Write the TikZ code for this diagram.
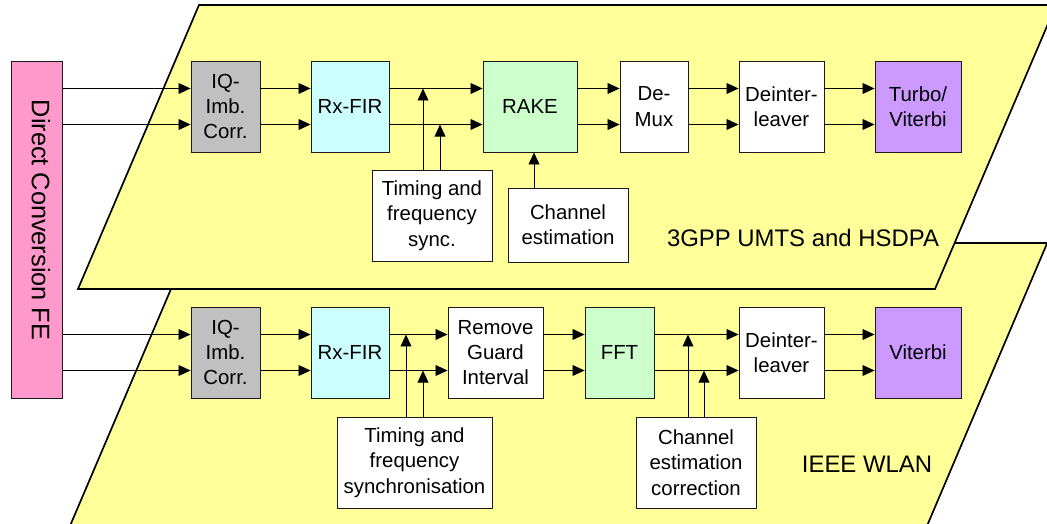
\documentclass[tikz,border=0pt]{standalone}
\usepackage{fontspec}
\setmainfont{Liberation Sans}
\usetikzlibrary{arrows.meta,calc}
\definecolor{Plane}{HTML}{FFFF99}
\definecolor{FrontEnd}{HTML}{FF99CC}
\definecolor{IQGrey}{HTML}{C0C0C0}
\definecolor{FirCyan}{HTML}{CCFFFF}
\definecolor{RakeGreen}{HTML}{CCFFCC}
\definecolor{DecViolet}{HTML}{CC99FF}
\definecolor{EdgeDark}{HTML}{1A1A1A}
\begin{document}
\begin{tikzpicture}[x=0.025cm,y=-0.025cm,every node/.style={font=\fontsize{14.5}{18}\selectfont,text=black},blk/.style={draw=EdgeDark,line width=0.6pt,fill=white,minimum height=2.275cm,inner sep=1pt,align=center},aux/.style={draw=EdgeDark,line width=0.6pt,fill=white,minimum height=2.275cm,minimum width=3cm,inner sep=1pt,align=center},plane/.style={draw=black,fill=Plane,line width=1.2pt,line join=miter},stdlabel/.style={font=\fontsize{17}{20}\selectfont},arrow/.style={draw=black,line width=0.6pt,-{Triangle[length=3mm,width=2.7mm]}}]
\useasboundingbox (0,0) rectangle (1047,524); \clip (0,0) rectangle (1047,524);
% the two standard planes
\filldraw[plane] (190.6,243) -- (1047.2,243) -- (921,540) -- (64,540) -- cycle;
\filldraw[plane] (199,5) -- (1056,5) -- (935,289) -- (78,289) -- cycle;
\node[stdlabel](umts) at (803,238){3GPP UMTS and HSDPA};
\node[stdlabel](wlan) at (867,464){IEEE WLAN};
% front end
\node[draw=EdgeDark,line width=0.6pt,fill=FrontEnd,minimum width=1.275cm,minimum height=8.425cm](fe) at (36.5,229.5){};
\node[rotate=-90,font=\fontsize{18}{20}\selectfont](fetext) at (41,220){Direct Conversion FE};
% UMTS chain
\node[blk,fill=IQGrey,minimum width=1.725cm](iqA) at (225.5,106.5){IQ-\\Imb.\\Corr.};
\node[blk,fill=FirCyan,minimum width=1.95cm](firA) at (350,106.5){Rx-FIR};
\node[blk,fill=RakeGreen,minimum width=2.35cm](rake) at (530,106.5){RAKE};
\node[blk,minimum width=1.7cm](demux) at (654,106.5){De-\\Mux};
\node[blk,minimum width=2.125cm](deintA) at (781.5,106.5){Deinter-\\leaver};
\node[blk,fill=DecViolet,minimum width=2.15cm](turbo) at (918,106.5){Turbo/\\Viterbi};
\node[aux](timingA) at (432,215.5){Timing and\\frequency\\sync.};
\node[aux,minimum height=1.85cm](chanA) at (568,225){Channel\\estimation};
% WLAN chain
\node[blk,fill=IQGrey,minimum width=1.725cm](iqB) at (225.5,352.5){IQ-\\Imb.\\Corr.};
\node[blk,fill=FirCyan,minimum width=1.95cm](firB) at (350,352.5){Rx-FIR};
\node[blk,minimum width=2.375cm](guard) at (495.5,352.5){Remove\\Guard\\Interval};
\node[blk,fill=RakeGreen,minimum width=1.725cm](fft) at (619.5,352.5){FFT};
\node[blk,minimum width=2.125cm](deintB) at (781.5,352.5){Deinter-\\leaver};
\node[blk,fill=DecViolet,minimum width=2.15cm](viterbi) at (918,352.5){Viterbi};
\node[aux,minimum width=3.875cm](timingB) at (414.5,462.5){Timing and\\frequency\\synchronisation};
\node[aux](chanB) at (696,462.5){Channel\\estimation\\correction};
% I and Q paths
\coordinate (rowAu) at ([yshift=0.45cm]iqA.west); \coordinate (rowAl) at ([yshift=-0.45cm]iqA.west);
\coordinate (rowBu) at ([yshift=0.45cm]iqB.west); \coordinate (rowBl) at ([yshift=-0.45cm]iqB.west);
\draw[arrow](fe.east |- rowAu)--(rowAu);\draw[arrow](fe.east |- rowAl)--(rowAl);
\draw[arrow](fe.east |- rowBu)--(rowBu);\draw[arrow](fe.east |- rowBl)--(rowBl);
\draw[arrow]([yshift=0.45cm]iqA.east)--([yshift=0.45cm]firA.west);\draw[arrow]([yshift=-0.45cm]iqA.east)--([yshift=-0.45cm]firA.west);
\draw[arrow]([yshift=0.45cm]firA.east)--([yshift=0.45cm]rake.west);\draw[arrow]([yshift=-0.45cm]firA.east)--([yshift=-0.45cm]rake.west);
\draw[arrow]([yshift=0.45cm]rake.east)--([yshift=0.45cm]demux.west);\draw[arrow]([yshift=-0.45cm]rake.east)--([yshift=-0.45cm]demux.west);
\draw[arrow]([yshift=0.45cm]demux.east)--([yshift=0.45cm]deintA.west);\draw[arrow]([yshift=-0.45cm]demux.east)--([yshift=-0.45cm]deintA.west);
\draw[arrow]([yshift=0.45cm]deintA.east)--([yshift=0.45cm]turbo.west);\draw[arrow]([yshift=-0.45cm]deintA.east)--([yshift=-0.45cm]turbo.west);
\draw[arrow]([yshift=0.45cm]iqB.east)--([yshift=0.45cm]firB.west);\draw[arrow]([yshift=-0.45cm]iqB.east)--([yshift=-0.45cm]firB.west);
\draw[arrow]([yshift=0.45cm]firB.east)--([yshift=0.45cm]guard.west);\draw[arrow]([yshift=-0.45cm]firB.east)--([yshift=-0.45cm]guard.west);
\draw[arrow]([yshift=0.45cm]guard.east)--([yshift=0.45cm]fft.west);\draw[arrow]([yshift=-0.45cm]guard.east)--([yshift=-0.45cm]fft.west);
\draw[arrow]([yshift=0.45cm]fft.east)--([yshift=0.45cm]deintB.west);\draw[arrow]([yshift=-0.45cm]fft.east)--([yshift=-0.45cm]deintB.west);
\draw[arrow]([yshift=0.45cm]deintB.east)--([yshift=0.45cm]viterbi.west);\draw[arrow]([yshift=-0.45cm]deintB.east)--([yshift=-0.45cm]viterbi.west);
% sync and channel estimation feeds
\coordinate (tA1) at ([xshift=-0.225cm]timingA.north); \coordinate (tA2) at ([xshift=0.2cm]timingA.north);
\draw[arrow](tA1)--(tA1 |- rowAu);\draw[arrow](tA2)--(tA2 |- rowAl);
\coordinate (cA1) at ([xshift=-0.85cm]chanA.north); \draw[arrow](cA1)--(cA1 |- rake.south);
\coordinate (tB1) at ([xshift=-0.2125cm]timingB.north); \coordinate (tB2) at ([xshift=0.2125cm]timingB.north);
\draw[arrow](tB1)--(tB1 |- rowBu);\draw[arrow](tB2)--(tB2 |- rowBl);
\coordinate (cB1) at ([xshift=-0.2cm]chanB.north); \coordinate (cB2) at ([xshift=0.2cm]chanB.north);
\draw[arrow](cB1)--(cB1 |- rowBu);\draw[arrow](cB2)--(cB2 |- rowBl);
\end{tikzpicture}
\end{document}
